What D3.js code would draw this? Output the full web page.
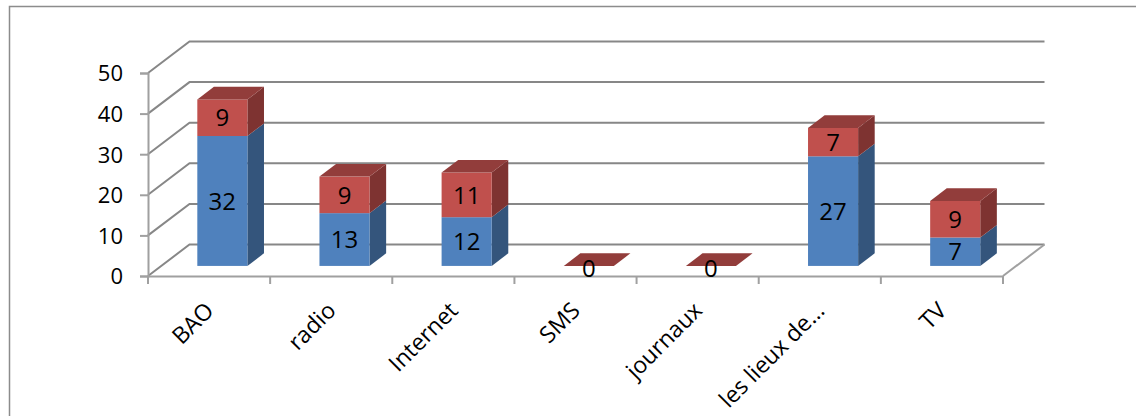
<!DOCTYPE html>
<html>
<head>
<meta charset="utf-8">
<script src="https://cdn.jsdelivr.net/npm/d3@7"></script>
<style>
  body { margin: 0; background: #fff; }
  text { font-family: "Open Sans", Lato, sans-serif; fill: #000; }
</style>
</head>
<body>
<div id="chart"></div>
<script>
// chart data
const categories = ["BAO", "radio", "Internet", "SMS", "journaux", "les lieux de…", "TV"];
const blueValues = [32, 13, 12, 0, 0, 27, 7];
const redValues = [9, 9, 11, 0, 0, 7, 9];
const yTicks = [0, 10, 20, 30, 40, 50];

const svgWidth = 1136;
const svgHeight = 416;

// depth offset of the 3d box (front plane -> back wall)
const DX = 41.5;
const DY = 31.5;

const svg = d3.select("#chart")
  .append("svg")
  .attr("width", svgWidth)
  .attr("height", svgHeight);

// outer frame (only top and left edges are in view)
svg.append("path")
  .attr("d", "M9.5,416 L9.5,6.5 L1136,6.5")
  .attr("fill", "none")
  .attr("stroke", "#8c8c8c")
  .attr("stroke-width", 1.5);

// scales on the front plane
const x = d3.scaleBand()
  .domain(categories)
  .range([148, 1003])
  .padding(0);

const y = d3.scaleLinear()
  .domain([0, 50])
  .range([276, 73]);

const x0 = x.range()[0], x1 = x.range()[1];

// project a point of the front plane to depth d (0 = front, 1 = back)
function proj(px, v, d) {
  return [px + d * DX, y(v) - d * DY];
}

const grid = svg.append("g");

// back wall + left wall gridlines
yTicks.forEach(t => {
  const a = [x0, y(t)];
  const b = proj(x0, t, 1);
  const c = proj(x1, t, 1);
  grid.append("polyline")
    .attr("points", [a, b, c].map(p => p.join(",")).join(" "))
    .attr("fill", "none")
    .attr("stroke", "#878787")
    .attr("stroke-width", 2);
});

// floor right edge
grid.append("line")
  .attr("x1", x1).attr("y1", y(0))
  .attr("x2", proj(x1, 0, 1)[0]).attr("y2", proj(x1, 0, 1)[1])
  .attr("stroke", "#a0a0a0")
  .attr("stroke-width", 2);

// front y axis
const leftAxis = d3.axisLeft(y).tickValues(yTicks).tickSize(8).tickPadding(17);
const yAxis = svg.append("g")
  .attr("transform", `translate(${x0}, 0)`)
  .call(leftAxis);
yAxis.select(".domain").attr("stroke", "#a0a0a0").attr("stroke-width", 2);
yAxis.selectAll(".tick line").attr("stroke", "#a0a0a0").attr("stroke-width", 2);
yAxis.selectAll(".tick text")
  .style("font-size", "22px")
  .style("font-family", "'Open Sans', sans-serif")
  .attr("fill", "#000")
  .attr("dy", "0.36em");

// front x axis
const bottomAxis = d3.axisBottom(x).tickSize(0).tickFormat("");
const xAxis = svg.append("g")
  .attr("transform", `translate(0, ${y(0)})`)
  .call(bottomAxis);
xAxis.select(".domain").attr("stroke", "#a0a0a0").attr("stroke-width", 2);

// category boundary ticks
const bounds = categories.map(c => x(c)).concat([x1]);
svg.append("g").selectAll("line")
  .data(bounds)
  .enter()
  .append("line")
  .attr("x1", d => d).attr("x2", d => d)
  .attr("y1", y(0)).attr("y2", y(0) + 8)
  .attr("stroke", "#a0a0a0")
  .attr("stroke-width", 2);

// category labels
svg.append("g").selectAll("text")
  .data(categories)
  .enter()
  .append("text")
  .attr("transform", d => `translate(${x(d) + x.bandwidth() / 2 + 6}, 312) rotate(-45)`)
  .attr("text-anchor", "end")
  .style("font-size", "23px")
  .text(d => d);

// stacked 3d bars
const barW = x.bandwidth() * 0.41;
const dFront = 0.32;
const dBack = 0.72;

const series = [
  { values: blueValues, front: "#4f81bd", side: "#34557c", top: "#6a8fc5" },
  { values: redValues, front: "#c0504d", side: "#7e3331", top: "#923d3b" }
];

const bars = svg.append("g");
const labels = svg.append("g");

categories.forEach((cat, i) => {
  const cx = x(cat) + x.bandwidth() / 2;
  const left = cx - barW / 2;
  const right = cx + barW / 2;
  let base = 0;
  series.forEach((s, k) => {
    const v = s.values[i];
    const lo = base, hi = base + v;
    base = hi;
    const isTop = k === series.length - 1;
    if (v > 0) {
      // side face
      const side = [proj(right, lo, dFront), proj(right, lo, dBack), proj(right, hi, dBack), proj(right, hi, dFront)];
      bars.append("polygon")
        .attr("points", side.map(p => p.join(",")).join(" "))
        .attr("fill", s.side);
      // front face
      const fl = proj(left, hi, dFront), fr = proj(right, lo, dFront);
      bars.append("rect")
        .attr("x", fl[0]).attr("y", fl[1])
        .attr("width", fr[0] - fl[0]).attr("height", fr[1] - fl[1])
        .attr("fill", s.front);
    }
    if (isTop) {
      const top = [proj(left, hi, dFront), proj(right, hi, dFront), proj(right, hi, dBack), proj(left, hi, dBack)];
      bars.append("polygon")
        .attr("points", top.map(p => p.join(",")).join(" "))
        .attr("fill", s.top);
    }
    // data label
    if (v > 0 || (isTop && hi === 0)) {
      const mid = proj(cx, (lo + hi) / 2, dFront);
      labels.append("text")
        .attr("x", mid[0])
        .attr("y", v > 0 ? mid[1] : mid[1] + 2)
        .attr("dy", "0.36em")
        .attr("text-anchor", "middle")
        .style("font-size", "24px")
        .text(v);
    }
  });
});
</script>
</body>
</html>
